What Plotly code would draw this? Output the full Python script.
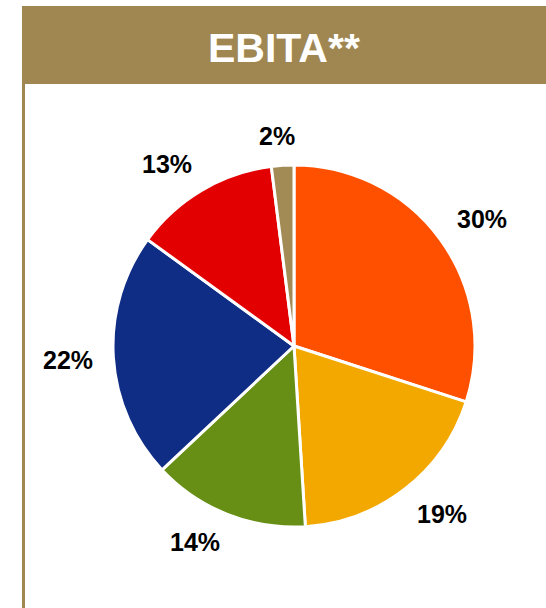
import math
import plotly.graph_objects as go

# Segment shares of EBITA (percent), drawn clockwise from 12 o'clock
segments = ["Segment A", "Segment B", "Segment C", "Segment D", "Segment E", "Segment F"]
shares = [30, 19, 14, 22, 13, 2]
colors = ["#FF5000", "#F3A800", "#678F16", "#102D86", "#E30000", "#A38B55"]
title_text = "EBITA**"

W, H = 546, 608
cx, cy, R = 294, 346, 181      # pie centre / radius in pixels
label_gap = 20                 # gap between pie edge and label anchor point
half_w, half_h = 25, 9         # approximate half size of a label box


def clamp(v):
    return max(-1.0, min(1.0, v))


fig = go.Figure()

fig.add_trace(go.Pie(
    labels=segments,
    values=shares,
    sort=False,
    direction="clockwise",
    rotation=0,
    marker=dict(colors=colors, line=dict(color="white", width=3)),
    textinfo="none",
    hoverinfo="label+percent",
    showlegend=False,
    domain=dict(x=[(cx - R) / W, (cx + R) / W],
                y=[1 - (cy + R) / H, 1 - (cy - R) / H]),
))

# Percentage labels outside each slice: the nearest corner of the label box
# touches a point just off the rim along the slice's mid angle
total = sum(shares)
cum = 0
annotations = []
for v in shares:
    mid = (cum + v / 2) / total * 2 * math.pi
    cum += v
    s, c = math.sin(mid), math.cos(mid)
    ax = cx + (R + label_gap) * s
    ay = cy - (R + label_gap) * c
    px = ax + half_w * clamp(3 * s)
    py = ay - half_h * clamp(3 * c)
    annotations.append(dict(
        x=px / W, y=1 - py / H, xref="paper", yref="paper",
        text=f"<b>{v}%</b>", showarrow=False,
        xanchor="center", yanchor="middle",
        font=dict(family="Liberation Sans, Arial, sans-serif", size=25, color="black"),
    ))

# Header title
annotations.append(dict(
    x=(22 + W) / 2 / W, y=1 - 48 / H, xref="paper", yref="paper",
    text=f"<b>{title_text}</b>", showarrow=False,
    xanchor="center", yanchor="middle",
    font=dict(family="Liberation Sans, Arial, sans-serif", size=41, color="white"),
))

shapes = [
    # header band
    dict(type="rect", xref="paper", yref="paper",
         x0=22 / W, x1=1, y0=1 - 84 / H, y1=1 - 6 / H,
         fillcolor="#A08752", line=dict(width=0), layer="below"),
    # left frame line
    dict(type="line", xref="paper", yref="paper",
         x0=23.5 / W, x1=23.5 / W, y0=0, y1=1 - 84 / H,
         line=dict(color="#A08752", width=3)),
]

fig.update_layout(
    width=W, height=H,
    margin=dict(l=0, r=0, t=0, b=0),
    paper_bgcolor="white",
    plot_bgcolor="white",
    annotations=annotations,
    shapes=shapes,
)

fig.write_html("out.html")
